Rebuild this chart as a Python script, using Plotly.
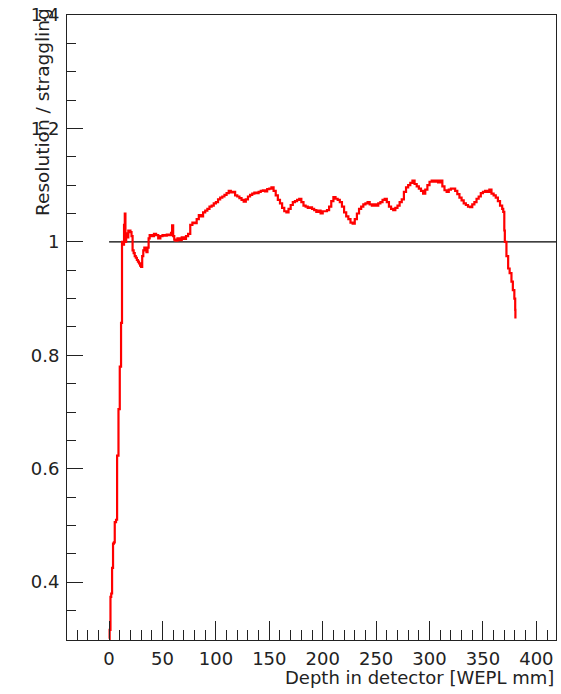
import plotly.graph_objects as go

# Depth [WEPL mm] and resolution/straggling ratio
depth = [0, 0.5, 1.3, 2.0, 2.8, 3.7, 4.5, 5.3, 6.5, 7.5, 8.8, 10.0, 11.2, 12.1, 13, 14, 14.7, 15.3,
         16, 17, 18, 19, 20, 21, 22, 23, 24, 25, 26, 27, 28, 29, 30, 31, 32, 33, 34, 35, 36, 37, 38,
         40, 42, 44, 46, 48, 50, 52, 54, 56, 58, 59, 60, 61, 62, 64, 66, 68, 70, 72, 74, 76, 78, 80,
         82, 84, 86, 88, 90, 92, 94, 96, 98, 100, 102, 104, 106, 108, 110, 112, 114, 116, 118, 120,
         122, 124, 126, 128, 130, 132, 134, 136, 138, 140, 142, 144, 146, 148, 150, 152, 154, 156,
         158, 160, 162, 164, 166, 168, 170, 172, 174, 176, 178, 180, 182, 184, 186, 188, 190, 192,
         194, 196, 198, 200, 202, 204, 206, 208, 210, 212, 214, 216, 218, 220, 222, 224, 226, 228,
         230, 232, 234, 236, 238, 240, 242, 244, 246, 248, 250, 252, 254, 256, 258, 260, 262, 264,
         266, 268, 270, 272, 274, 276, 278, 280, 282, 284, 286, 288, 290, 292, 294, 296, 298, 300,
         302, 304, 306, 308, 310, 312, 314, 316, 318, 320, 322, 324, 326, 328, 330, 332, 334, 336,
         338, 340, 342, 344, 346, 348, 350, 352, 354, 356, 358, 360, 362, 364, 366, 368, 369, 370,
         370.5, 372, 373.6, 375, 376.7, 378, 379.4, 380.2, 380.4]
ratio = [0.30, 0.316, 0.374, 0.38, 0.425, 0.468, 0.47, 0.506, 0.51, 0.623, 0.705, 0.78, 0.857, 1.0,
         0.995, 1.03, 1.05, 1.0, 1.015, 1.008, 1.02, 1.02, 1.017, 1.01, 0.985, 0.98, 0.975, 0.972,
         0.968, 0.965, 0.962, 0.958, 0.956, 0.975, 0.985, 0.99, 0.986, 0.982, 0.99, 1.006, 1.012,
         1.01, 1.014, 1.012, 1.006, 1.01, 1.012, 1.011, 1.013, 1.012, 1.016, 1.029, 1.01, 1.004,
         1.002, 1.006, 1.003, 1.008, 1.005, 1.01, 1.014, 1.03, 1.034, 1.033, 1.04, 1.047, 1.045,
         1.052, 1.055, 1.058, 1.062, 1.064, 1.068, 1.07, 1.075, 1.078, 1.08, 1.083, 1.086, 1.09,
         1.087, 1.088, 1.082, 1.08, 1.077, 1.074, 1.071, 1.075, 1.08, 1.083, 1.085, 1.087, 1.086,
         1.088, 1.09, 1.091, 1.089, 1.093, 1.094, 1.096, 1.09, 1.082, 1.074, 1.068, 1.06, 1.054,
         1.052, 1.058, 1.065, 1.07, 1.072, 1.074, 1.076, 1.07, 1.064, 1.062, 1.06, 1.061, 1.058,
         1.056, 1.053, 1.055, 1.05, 1.054, 1.054, 1.056, 1.062, 1.072, 1.079, 1.076, 1.074, 1.07,
         1.062, 1.052, 1.045, 1.04, 1.034, 1.032, 1.04, 1.05, 1.058, 1.062, 1.066, 1.068, 1.07,
         1.066, 1.064, 1.066, 1.064, 1.068, 1.07, 1.074, 1.076, 1.07, 1.062, 1.058, 1.056, 1.06,
         1.064, 1.07, 1.075, 1.088, 1.096, 1.1, 1.104, 1.108, 1.102, 1.098, 1.094, 1.09, 1.085,
         1.092, 1.1, 1.106, 1.108, 1.106, 1.108, 1.105, 1.108, 1.098, 1.091, 1.088, 1.092, 1.094,
         1.094, 1.09, 1.084, 1.078, 1.073, 1.068, 1.065, 1.062, 1.061, 1.066, 1.07, 1.076, 1.08,
         1.086, 1.088, 1.09, 1.088, 1.092, 1.085, 1.082, 1.078, 1.072, 1.064, 1.058, 1.053, 1.02,
         1.0, 0.975, 0.953, 0.945, 0.93, 0.915, 0.9, 0.88, 0.865]

# Reference line at ratio = 1
ref_x = [0, 418.4]
ref_y = [1, 1]

x_ticks = [0, 50, 100, 150, 200, 250, 300, 350, 400]
y_ticks = [0.4, 0.6, 0.8, 1.0, 1.2, 1.4]
y_tick_labels = ["0.4", "0.6", "0.8", "1", "1.2", "1.4"]
y_minor_ticks = [0.35, 0.45, 0.5, 0.55, 0.65, 0.7, 0.75, 0.85, 0.9, 0.95,
                 1.05, 1.1, 1.15, 1.25, 1.3, 1.35]

FONT = "DejaVu Sans, sans-serif"
AX = "#222222"

fig = go.Figure()
fig.add_trace(go.Scatter(x=ref_x, y=ref_y, mode="lines",
                         line=dict(color="black", width=1.3), hoverinfo="skip"))
fig.add_trace(go.Scatter(x=depth, y=ratio, mode="lines",
                         line=dict(color="#ff0000", width=2.2, shape="hv")))

fig.update_layout(
    width=561, height=694,
    margin=dict(l=67, r=4, t=12, b=54),
    paper_bgcolor="white", plot_bgcolor="white",
    showlegend=False,
    font=dict(family=FONT, size=18, color="#222222"),
    xaxis=dict(range=[-39.4, 418.4], tickmode="array", tickvals=x_ticks,
               ticks="inside", ticklen=19, tickwidth=1, tickcolor=AX,
               minor=dict(dtick=10, tick0=0, ticks="inside", ticklen=10, tickcolor=AX),
               showgrid=False, zeroline=False, showline=True, linecolor=AX,
               linewidth=1, mirror=True, tickfont=dict(size=18), ticklabelstandoff=2),
    yaxis=dict(range=[0.298, 1.4], tickmode="array", tickvals=y_ticks, ticktext=y_tick_labels,
               ticks="inside", ticklen=16, tickwidth=1, tickcolor=AX,
               minor=dict(tickmode="array", tickvals=y_minor_ticks, ticks="inside",
                          ticklen=9, tickcolor=AX),
               showgrid=False, zeroline=False, showline=True, linecolor=AX,
               linewidth=1, mirror=True, tickfont=dict(size=18), ticklabelstandoff=3),
    annotations=[
        dict(text="Depth in detector [WEPL mm]", xref="paper", yref="paper", x=1, y=0,
             xanchor="right", yanchor="top", yshift=-25, showarrow=False,
             font=dict(size=18)),
        dict(text="Resolution / straggling", xref="paper", yref="paper", x=0, y=1,
             xanchor="center", yanchor="top", xshift=-25, yshift=9, textangle=-90,
             showarrow=False, font=dict(size=18.5)),
    ],
)

fig.write_html("out.html", config={"displayModeBar": False},
               post_script="document.body.style.margin='0';document.body.style.overflow='hidden';")
